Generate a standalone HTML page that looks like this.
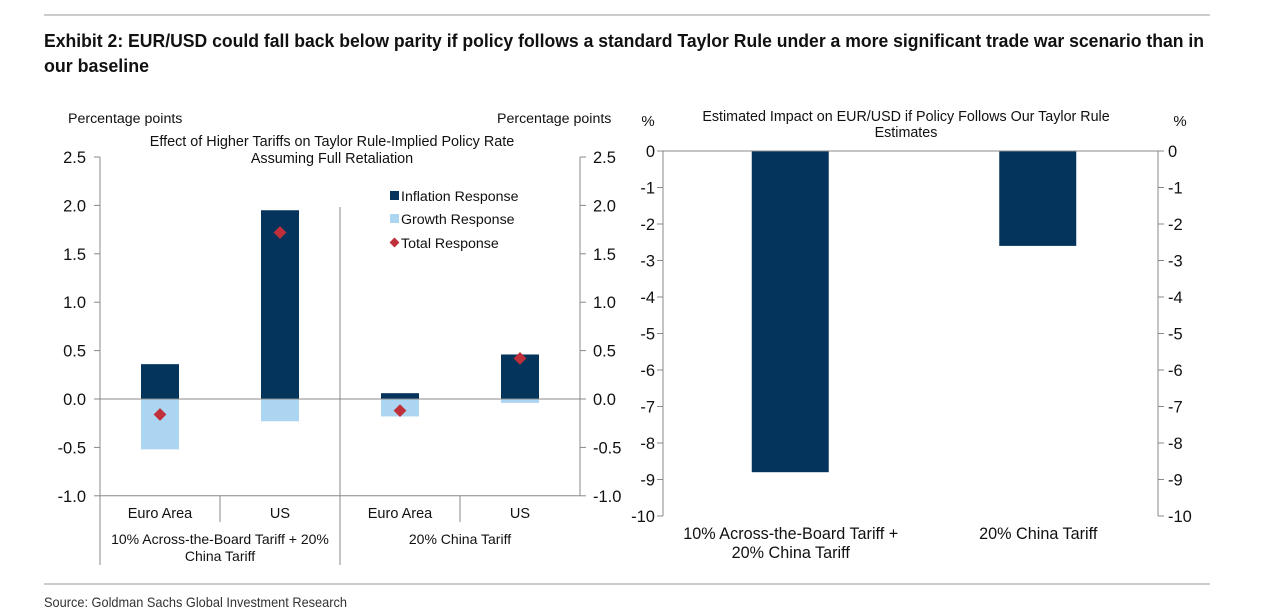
<!DOCTYPE html>
<html><head><meta charset="utf-8"><style>
body{margin:0;background:#fff;}
svg{display:block;font-family:"Liberation Sans",Arial,sans-serif;}
</style></head><body>
<svg id="s" width="1275" height="615" viewBox="0 0 1275 615">
<line x1="44" y1="15" x2="1210" y2="15" stroke="#999"/>
<text x="44" y="47" font-size="18" font-weight="bold" fill="#111" textLength="1160" lengthAdjust="spacingAndGlyphs">Exhibit 2: EUR/USD could fall back below parity if policy follows a standard Taylor Rule under a more significant trade war scenario than in</text>
<text x="44" y="72" font-size="18" font-weight="bold" fill="#111" textLength="105" lengthAdjust="spacingAndGlyphs">our baseline</text>
<line x1="44" y1="584" x2="1210" y2="584" stroke="#999"/>
<text x="44" y="607" font-size="14" fill="#333" textLength="303" lengthAdjust="spacingAndGlyphs">Source: Goldman Sachs Global Investment Research</text>

<text x="68" y="123" font-size="14.2" fill="#111">Percentage points</text>
<text x="497" y="123" font-size="14.2" fill="#111">Percentage points</text>
<text x="332" y="146" font-size="14.4" fill="#111" text-anchor="middle">Effect of Higher Tariffs on Taylor Rule-Implied Policy Rate</text>
<text x="332" y="163" font-size="14.4" fill="#111" text-anchor="middle">Assuming Full Retaliation</text>

<g id="left"></g>
<g id="right"></g>

<rect x="390" y="191" width="9" height="9" fill="#04335c"/>
<text x="401" y="201" font-size="14.2" fill="#111">Inflation Response</text>
<rect x="390" y="214" width="9" height="9" fill="#acd5f2"/>
<text x="401" y="224" font-size="14.2" fill="#111">Growth Response</text>
<rect x="391" y="239" width="7" height="7" fill="#c0303a" transform="rotate(45 394.5 242.5)"/>
<text x="401" y="248" font-size="14.2" fill="#111">Total Response</text>

<text x="648" y="126" font-size="15" fill="#111" text-anchor="middle">%</text>
<text x="1180" y="126" font-size="15" fill="#111" text-anchor="middle">%</text>
<text x="906" y="121" font-size="14.3" fill="#111" text-anchor="middle">Estimated Impact on EUR/USD if Policy Follows Our Taylor Rule</text>
<text x="906" y="137" font-size="14.3" fill="#111" text-anchor="middle">Estimates</text>
</svg>
<script>
const leftCategories = ["Euro Area","US","Euro Area","US"];
const leftGroups = [["10% Across-the-Board Tariff + 20%","China Tariff"],["20% China Tariff"]];
const inflationValues = [0.36, 1.95, 0.06, 0.46];
const growthValues = [-0.52, -0.23, -0.18, -0.04];
const totalValues = [-0.16, 1.72, -0.12, 0.42];
const leftTicks = [2.5, 2.0, 1.5, 1.0, 0.5, 0.0, -0.5, -1.0];
const rightCategories = [["10% Across-the-Board Tariff +","20% China Tariff"],["20% China Tariff"]];
const eurusdValues = [-8.8, -2.6];
const rightTicks = [0,-1,-2,-3,-4,-5,-6,-7,-8,-9,-10];

const NS = "http://www.w3.org/2000/svg";
function mk(parent, tag, attrs, text){
  const e = document.createElementNS(NS, tag);
  for (const k in attrs) e.setAttribute(k, attrs[k]);
  if (text !== undefined) e.textContent = text;
  parent.appendChild(e);
  return e;
}
const AX = "#888";
const L = document.getElementById("left");
const lx0 = 100, lx1 = 580, ly = v => 399 - v * 96.8;
const catW = (lx1 - lx0) / leftCategories.length;
const cx = i => lx0 + catW * (i + 0.5);
let e;
leftTicks.forEach(t => {
  e = mk(L, "line", {x1: lx0-6, x2: lx0, y1: ly(t), y2: ly(t), stroke: AX});
  
  
  e = mk(L, "line", {x1: lx1, x2: lx1+6, y1: ly(t), y2: ly(t), stroke: AX});
  
  
  e = mk(L, "text", {x: lx0-14, y: ly(t)+6, "font-size": 16.5, "text-anchor": "end", fill: "#111"}, t.toFixed(1));
  
  
  e = mk(L, "text", {x: lx1+13, y: ly(t)+6, "font-size": 16.5, fill: "#111"}, t.toFixed(1));
  
  
});
const bw = 38;
inflationValues.forEach((v, i) => {
  e = mk(L, "rect", {x: cx(i)-bw/2, y: Math.min(ly(v), ly(0)), width: bw, height: Math.abs(ly(v)-ly(0)), fill: "#04335c"});
  
  
});
growthValues.forEach((v, i) => {
  e = mk(L, "rect", {x: cx(i)-bw/2, y: Math.min(ly(v), ly(0)), width: bw, height: Math.abs(ly(v)-ly(0)), fill: "#acd5f2"});
  
  
});
e = mk(L, "line", {x1: lx0, x2: lx1, y1: ly(0), y2: ly(0), stroke: AX});


totalValues.forEach((v, i) => {
  e = mk(L, "rect", {x: cx(i)-4.5, y: ly(v)-4.5, width: 9, height: 9, fill: "#c0303a", transform: `rotate(45 ${cx(i)} ${ly(v)})`});
  
  
});
e = mk(L, "line", {x1: lx0, x2: lx0, y1: ly(2.5), y2: 565, stroke: AX});


e = mk(L, "line", {x1: lx1, x2: lx1, y1: ly(2.5), y2: ly(-1), stroke: AX});


e = mk(L, "line", {x1: lx0, x2: lx1, y1: ly(-1), y2: ly(-1), stroke: AX});


e = mk(L, "line", {x1: (lx0+lx1)/2, x2: (lx0+lx1)/2, y1: 207, y2: 565, stroke: AX});


[1, 3].forEach(k => {
  e = mk(L, "line", {x1: lx0+catW*k, x2: lx0+catW*k, y1: ly(-1), y2: 522, stroke: AX});
  
  
});
leftCategories.forEach((c, i) => {
  e = mk(L, "text", {x: cx(i), y: 518, "font-size": 14.5, "text-anchor": "middle", fill: "#111"}, c);
  
  
});
leftGroups.forEach((g, j) => {
  g.forEach((line, k) => {
    e = mk(L, "text", {x: lx0 + catW*(2*j+1), y: 544 + k*17, "font-size": 14, "text-anchor": "middle", fill: "#111"}, line);
    
    
  });
});
const R = document.getElementById("right");
const rx0 = 663, rx1 = 1158, ry = v => 151 - v * 36.5;
const rW = (rx1 - rx0) / eurusdValues.length;
rightTicks.forEach(t => {
  e = mk(R, "line", {x1: rx0-6, x2: rx0, y1: ry(t), y2: ry(t), stroke: AX});
  
  
  e = mk(R, "line", {x1: rx1, x2: rx1+6, y1: ry(t), y2: ry(t), stroke: AX});
  
  
  e = mk(R, "text", {x: rx0-8, y: ry(t)+6, "font-size": 16.5, "text-anchor": "end", fill: "#111"}, String(t));
  
  
  e = mk(R, "text", {x: rx1+10, y: ry(t)+6, "font-size": 16.5, fill: "#111"}, String(t));
  
  
});
eurusdValues.forEach((v, i) => {
  const c = rx0 + rW*(i+0.5);
  e = mk(R, "rect", {x: c-35, y: ry(0), width: 77, height: ry(v)-ry(0), fill: "#04335c"});
  
  
  rightCategories[i].forEach((line, k) => {
    e = mk(R, "text", {x: c+4, y: 539 + k*19, "font-size": 16.2, "text-anchor": "middle", fill: "#111"}, line);
    
    
  });
});
e = mk(R, "line", {x1: rx0, x2: rx1, y1: ry(0), y2: ry(0), stroke: AX});


e = mk(R, "line", {x1: rx0, x2: rx0, y1: ry(0), y2: ry(-10), stroke: AX});


e = mk(R, "line", {x1: rx1, x2: rx1, y1: ry(0), y2: ry(-10), stroke: AX});


</script>
</body></html>
